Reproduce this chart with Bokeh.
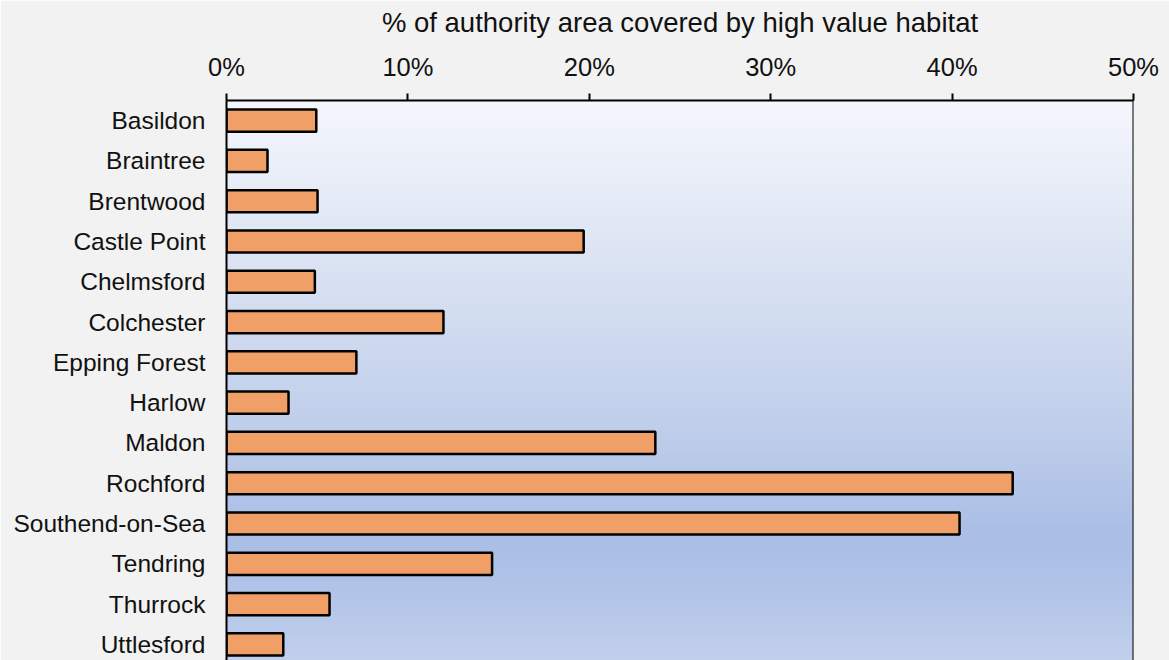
import numpy as np
from bokeh.plotting import figure
from bokeh.models import ColumnDataSource, FixedTicker, Range1d, Span
from bokeh.embed import file_html
from bokeh.resources import INLINE

# ---- data ----
categories = ["Basildon", "Braintree", "Brentwood", "Castle Point", "Chelmsford",
              "Colchester", "Epping Forest", "Harlow", "Maldon", "Rochford",
              "Southend-on-Sea", "Tendring", "Thurrock", "Uttlesford"]
values = [4.95, 2.26, 5.02, 19.69, 4.87, 11.96, 7.16, 3.42, 23.64, 43.34,
          40.41, 14.64, 5.68, 3.13]
x_ticks = [0, 10, 20, 30, 40, 50]
x_tick_labels = ["0%", "10%", "20%", "30%", "40%", "50%"]
axis_title = "% of authority area covered by high value habitat"

FONT = "Liberation Sans"
BG = "#f2f2f2"

idx = list(range(len(categories)))
src = ColumnDataSource(dict(y=idx, value=values, cat=categories))

y_top = -0.5
y_bottom = 13.4

p = figure(width=1169, height=660, output_backend="svg", toolbar_location=None,
           x_range=Range1d(0, 50), y_range=Range1d(y_bottom, y_top),
           x_axis_location="above",
           min_border_left=226, min_border_right=36, min_border_top=100,
           min_border_bottom=0)
p.background_fill_color = BG
p.border_fill_color = BG
p.outline_line_color = None
p.grid.visible = False

# background gradient of the plot area (white at top -> blue -> lighter at bottom)
stops_f = [0.0, 0.18, 0.36, 0.55, 0.78, 0.90, 1.0]
stops_c = [(245, 247, 253), (229, 235, 247), (213, 223, 241), (195, 209, 236),
           (170, 190, 230), (180, 198, 233), (195, 208, 236)]
N = 560
f = np.linspace(0, 1, N)
img = np.zeros((N, 1), dtype=np.uint32)
view = img.view(dtype=np.uint8).reshape((N, 1, 4))
for ch in range(3):
    # row 0 of image sits at y=y_top (top of the plot, axis is flipped)
    view[:, 0, ch] = np.interp(f, stops_f, [c[ch] for c in stops_c]).astype(np.uint8)
view[:, 0, 3] = 255
p.image_rgba(image=[img], x=0, y=y_top, dw=50, dh=y_bottom - y_top)

p.hbar(y="y", right="value", left=0, height=0.55, source=src,
       fill_color="#f0a066", line_color="black", line_width=2.5)

p.add_layout(Span(location=50, dimension="height", line_color="black", line_width=2))

xa = p.xaxis[0]
xa.ticker = FixedTicker(ticks=x_ticks)
xa.major_label_overrides = {t: l for t, l in zip(x_ticks, x_tick_labels)}
xa.axis_label = axis_title
xa.axis_label_text_font = FONT
xa.axis_label_text_font_size = "27.5px"
xa.axis_label_text_font_style = "normal"
xa.axis_label_text_color = "#111111"
xa.axis_label_standoff = 12
xa.major_label_text_font = FONT
xa.major_label_text_font_size = "25.5px"
xa.major_label_text_color = "#111111"
xa.major_label_standoff = 13
xa.major_tick_out = 7
xa.major_tick_in = 0
xa.minor_tick_out = 0
xa.minor_tick_in = 0
xa.axis_line_width = 2
xa.major_tick_line_width = 2
xa.axis_line_color = "black"

ya = p.yaxis[0]
ya.ticker = FixedTicker(ticks=idx)
ya.major_label_overrides = {i: c for i, c in zip(idx, categories)}
ya.major_label_text_font = FONT
ya.major_label_text_font_size = "24.5px"
ya.major_label_text_color = "#111111"
ya.major_label_standoff = 21
ya.major_tick_out = 0
ya.major_tick_in = 0
ya.minor_tick_out = 0
ya.minor_tick_in = 0
ya.axis_line_width = 2
ya.axis_line_color = "black"

html = file_html(p, INLINE)
html = html.replace("<body>", '<body style="background:%s">' % BG, 1)
open("out.html", "w").write(html)
